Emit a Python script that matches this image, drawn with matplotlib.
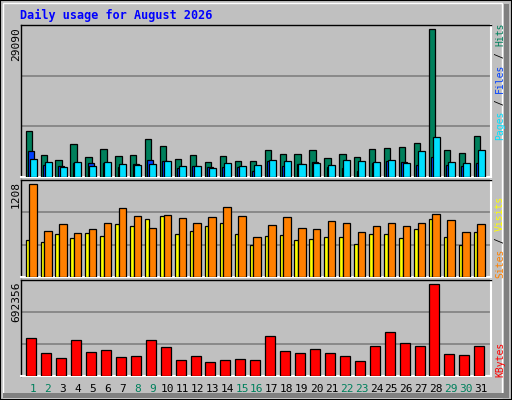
import numpy as np
import matplotlib.pyplot as plt
from matplotlib.patches import Rectangle

days = np.arange(1, 32)
weekend = [1, 2, 8, 9, 15, 16, 22, 23, 29, 30]

hits = [9040, 4320, 3340, 6480, 3930, 5500, 4130, 4320, 7470, 6090, 3540, 4320, 2950, 4130, 3140, 3140,
        5310, 4520, 4520, 5310, 3730, 4520, 3930, 5500, 5700, 5900, 6680, 29090, 5310, 4720, 8060]
files = [3540, 2950, 1970, 2950, 2160, 2950, 2550, 2360, 2550, 3140, 2160, 2160, 1770, 2750, 2160, 2360,
         3340, 3140, 2550, 2750, 2360, 3340, 3140, 2950, 3340, 2750, 5110, 7860, 2950, 2750, 5310]
pages = [5110, 2360, 2160, 2750, 2750, 2750, 1970, 2550, 3340, 3140, 1770, 2160, 1970, 1970, 1970, 1180,
         3140, 2160, 2550, 2950, 1970, 1770, 1180, 2750, 3140, 2950, 2360, 3930, 2360, 2160, 2750]
visits = [479, 453, 556, 505, 570, 530, 687, 661, 752, 792, 556, 596, 661, 700, 556, 413,
          530, 544, 479, 491, 517, 517, 426, 556, 556, 505, 622, 752, 517, 413, 582]
sites = [1208, 596, 687, 570, 622, 700, 895, 792, 635, 804, 765, 700, 778, 909, 792, 517,
         674, 778, 635, 622, 726, 700, 582, 661, 700, 661, 700, 818, 739, 582, 687]
kbytes = [283250, 177220, 139350, 268110, 184800, 199950, 146930, 154510, 268110, 222670, 124210,
          154510, 109060, 124210, 131780, 124210, 298400, 192380, 177220, 207520, 177220, 154510,
          116640, 230250, 328700, 252960, 230250, 692356, 169640, 162070, 230250]

BG = '#c0c0c0'
W, H = 512, 400
fig = plt.figure(figsize=(5.12, 4.0), dpi=100, facecolor=BG)
mono = 'DejaVu Sans Mono'

# frame: white top/left, dark shadow bottom/right
fig.patches.append(Rectangle((0, 0), 1, 1, transform=fig.transFigure, fc='none', ec='black', lw=1.5))
fig.patches.append(Rectangle((3 / W, 3 / H), 1 - 13 / W, 1 - 6 / H, transform=fig.transFigure,
                             fc='none', ec='white', lw=1))
fig.patches.append(Rectangle((3 / W, 2 / H), 1 - 6 / W, 5 / H, transform=fig.transFigure, fc='#808080', ec='none'))
fig.patches.append(Rectangle((1 - 8 / W, 2 / H), 5 / W, 1 - 6 / H, transform=fig.transFigure, fc='#808080', ec='none'))


def panel(y0, y1):
    ax = fig.add_axes([20.7 / W, 1 - y1 / H, 470 / W, (y1 - y0) / H])
    ax.set_facecolor(BG)
    ax.set_xlim(0.18, 31.65)
    ax.set_xticks([])
    ax.set_yticks([])
    for s in ax.spines.values():
        s.set_color('black')
        s.set_linewidth(1)
    ax.spines['bottom'].set_color('white')
    ax.spines['right'].set_color('white')
    ax.spines['bottom'].set_linewidth(1.5)
    ax.spines['right'].set_linewidth(1.5)
    return ax


def bars(ax, vals, x0, x1, color):
    ax.bar(days + x0, vals, width=x1 - x0, align='edge', color=color, edgecolor='black', lw=0.9, zorder=3)


ax1 = panel(25, 177)
ax1.set_ylim(0, max(hits) * 152 / 148)
for g in (1, 2):
    ax1.axhline(ax1.get_ylim()[1] * g / 3, color='#808080', lw=1.2, zorder=1)
bars(ax1, hits, -0.49, -0.07, '#00805c')
bars(ax1, pages, -0.33, 0.07, '#0040ff')
bars(ax1, files, -0.22, 0.25, '#00e0ff')

ax2 = panel(180, 277)
ax2.set_ylim(0, max(sites) * 96.7 / 92.7)
for g in (1, 2):
    ax2.axhline(ax2.get_ylim()[1] * g / 3, color='#808080', lw=1.2, zorder=1)
bars(ax2, visits, -0.49, -0.25, '#ffff00')
bars(ax2, sites, -0.25, 0.25, '#ff8000')

ax3 = panel(280, 376)
ax3.set_ylim(0, max(kbytes) * 95.7 / 91.4)
for g in (1, 2):
    ax3.axhline(ax3.get_ylim()[1] * g / 3, color='#808080', lw=1.2, zorder=1)
bars(ax3, kbytes, -0.45, 0.22, '#ff0000')

# title
fig.text(20 / W, 1 - 15 / H, 'Daily usage for August 2026', color='#0000ff', fontsize=8.5,
         fontweight='bold', family=mono, va='center')

# max labels on left
for txt, ytop in (('29090', 27), ('1208', 181), ('692356', 281)):
    fig.text(16 / W, 1 - ytop / H, txt, rotation=90, fontsize=8, family=mono, ha='center', va='top')

# day labels
for d in days:
    x = (33 + (d - 1) * 14.93) / W
    fig.text(x, 1 - 389 / H, str(d), fontsize=8, family=mono, ha='center', va='center',
             color='#00805c' if d in weekend else 'black')


def side_label(parts, ybottom):
    y = ybottom
    for txt, col in parts:
        fig.text(500 / W, 1 - y / H, txt, rotation=90, fontsize=7, family=mono, color=col,
                 ha='center', va='bottom')
        y -= 5.85 * len(txt)


side_label([('Pages', '#00e0ff'), (' / ', 'black'), ('Files', '#0040ff'), (' / ', 'black'),
            ('Hits', '#00805c')], 140)
side_label([('Sites', '#ff8000'), (' / ', 'black'), ('Visits', '#ffff00')], 278)
side_label([('KBytes', '#ff0000')], 377)

fig.savefig('out.png', dpi=100, facecolor=BG)
